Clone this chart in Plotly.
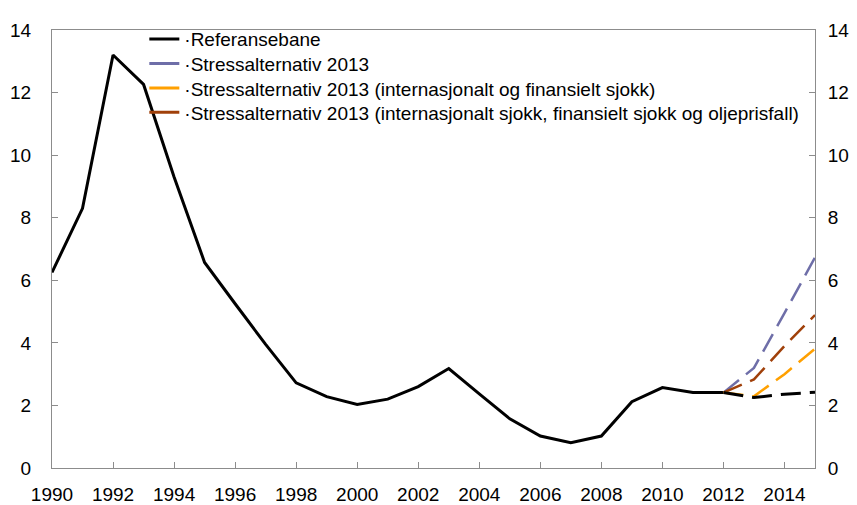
import plotly.graph_objects as go

hist_years = list(range(1990, 2013))
hist_values = [6.25, 8.3, 13.2, 12.26, 9.3, 6.57, 5.25, 3.95, 2.72, 2.28, 2.03, 2.2, 2.6, 3.18,
               2.37, 1.57, 1.02, 0.81, 1.02, 2.12, 2.57, 2.41, 2.41]

proj_years = [2012, 2013, 2014, 2015]
ref_values = [2.41, 2.25, 2.36, 2.42]
stress_values = [2.41, 3.2, 4.95, 6.73]
stress_fin_values = [2.41, 2.29, 3.0, 3.81]
stress_oil_values = [2.41, 2.83, 3.9, 4.89]

names = ["Referansebane", "Stressalternativ 2013",
         "Stressalternativ 2013 (internasjonalt og finansielt sjokk)",
         "Stressalternativ 2013 (internasjonalt sjokk, finansielt sjokk og oljeprisfall)"]
colors = ["#000000", "#6E6EA8", "#FFA000", "#A0400A"]

x_ticks = list(range(1990, 2015, 2))
y_ticks = [0, 2, 4, 6, 8, 10, 12, 14]

fig = go.Figure()
dash = "20px,9px"
fig.add_trace(go.Scatter(x=hist_years, y=hist_values, mode="lines",
                         line=dict(color="#000000", width=3), showlegend=False))
fig.add_trace(go.Scatter(x=proj_years, y=stress_values, mode="lines",
                         line=dict(color=colors[1], width=2.5, dash=dash), showlegend=False))
fig.add_trace(go.Scatter(x=proj_years, y=stress_oil_values, mode="lines",
                         line=dict(color=colors[3], width=2.5, dash=dash), showlegend=False))
fig.add_trace(go.Scatter(x=proj_years, y=stress_fin_values, mode="lines",
                         line=dict(color=colors[2], width=2.5, dash=dash), showlegend=False))
fig.add_trace(go.Scatter(x=proj_years, y=ref_values, mode="lines",
                         line=dict(color="#000000", width=3, dash=dash), showlegend=False))

# legend entries, each in its own legend for exact row spacing
legend_ids = ["legend", "legend2", "legend3", "legend4"]
legend_y = [1.0224, 0.9664, 0.9104, 0.8551]
for n, c, lid in zip(names, colors, legend_ids):
    fig.add_trace(go.Scatter(x=[None], y=[None], mode="lines", name="\u00b7" + n,
                             line=dict(color=c, width=3), legend=lid))

# right axis mirror trace
fig.add_trace(go.Scatter(x=[None], y=[None], yaxis="y2", showlegend=False))

font = dict(family="Liberation Sans, Arial, sans-serif", size=19, color="#000000")
axis_common = dict(showgrid=False, zeroline=False, showline=True, linecolor="#8c8c8c",
                   linewidth=1, ticks="inside", ticklen=6, tickcolor="#8c8c8c",
                   automargin=False)
layout_legends = {}
for lid, ly in zip(legend_ids, legend_y):
    layout_legends[lid] = dict(x=0.121, y=ly, xanchor="left", yanchor="top",
                               bgcolor="rgba(0,0,0,0)",
                               font=dict(family="Liberation Sans, Arial, sans-serif", size=19),
                               itemwidth=30)

# page body has an 8px default margin; size figure so plot area lands at the same place
fig.update_layout(
    width=849, height=497,
    margin=dict(l=44, r=42, t=17, b=37),
    paper_bgcolor="white", plot_bgcolor="white",
    font=font,
    xaxis=dict(range=[1990, 2015], tickvals=x_ticks, ticktext=[str(v) for v in x_ticks],
               mirror=True, ticklabelstandoff=9, **axis_common),
    yaxis=dict(range=[0, 14], tickvals=y_ticks, ticklabelstandoff=16, **axis_common),
    yaxis2=dict(range=[0, 14], tickvals=y_ticks, overlaying="y", side="right",
                ticklabelstandoff=8, **axis_common),
    **layout_legends,
)

fig.write_html("out.html")
